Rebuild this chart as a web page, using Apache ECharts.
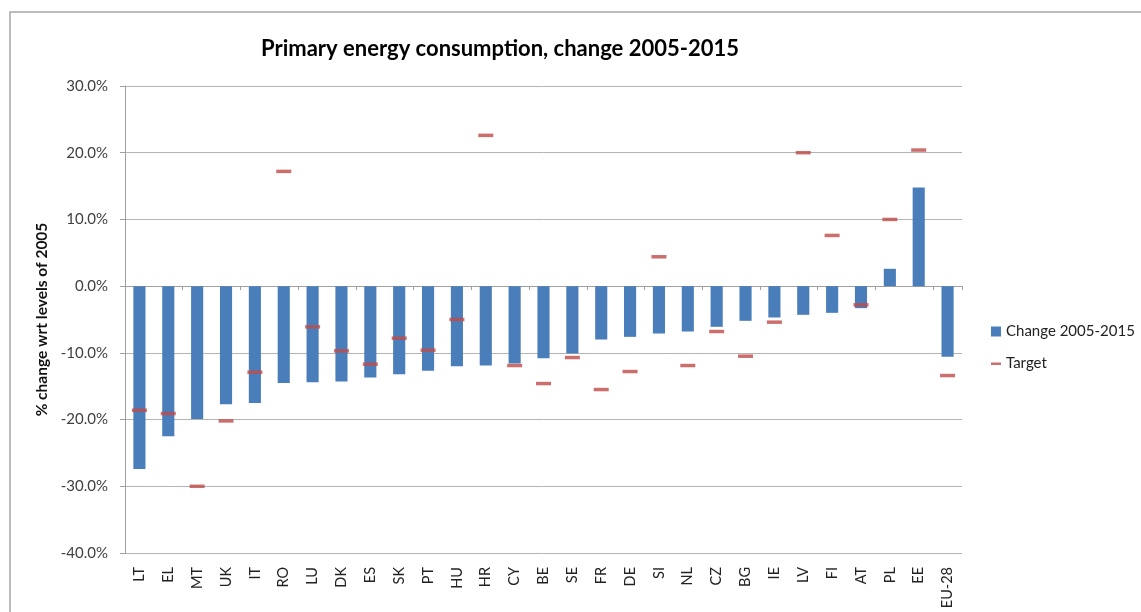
<!DOCTYPE html>
<html>
<head>
<meta charset="utf-8">
<script src="https://cdn.jsdelivr.net/npm/echarts@6/dist/echarts.min.js"></script>
<style>
  html, body { margin: 0; padding: 0; background: #fff; }
  #main { width: 1141px; height: 612px; }
</style>
</head>
<body>
<div id="main"></div>
<script>
const countries = ["LT", "EL", "MT", "UK", "IT", "RO", "LU", "DK", "ES", "SK", "PT", "HU", "HR", "CY",
  "BE", "SE", "FR", "DE", "SI", "NL", "CZ", "BG", "IE", "LV", "FI", "AT", "PL", "EE", "EU-28"]

// % change 2005-2015
const change = [-27.4, -22.5, -19.9, -17.7, -17.5, -14.5, -14.4, -14.3, -13.7, -13.2, -12.7, -12.0, -11.9, -11.6,
  -10.8, -10.1, -8.0, -7.6, -7.1, -6.8, -6.1, -5.2, -4.7, -4.3, -4.0, -3.3, 2.6, 14.8, -10.6]

// 2020 targets, % vs 2005
const target = [-18.6, -19.1, -30.0, -20.2, -12.9, 17.2, -6.1, -9.7, -11.7, -7.8, -9.6, -5.0, 22.6, -11.9,
  -14.6, -10.7, -15.5, -12.8, 4.4, -11.9, -6.8, -10.5, -5.4, 20.0, 7.6, -2.8, 10.0, 20.4, -13.4]

const yTicks = [-40, -30, -20, -10, 0, 10, 20, 30]

const textFont = "Lato, 'Open Sans', sans-serif"

const chart = echarts.init(document.getElementById("main"))

const option = {
  backgroundColor: "#fff",
  animation: false,
  textStyle: { fontFamily: textFont },
  graphic: [
    {
      type: "rect",
      shape: { x: 10, y: 12, width: 1400, height: 800 },
      style: { fill: "none", stroke: "#a6a6a6", lineWidth: 1.5 },
      silent: true,
    },
  ],
  title: {
    text: "Primary energy consumption, change 2005-2015",
    left: 495,
    textAlign: "center",
    top: 33,
    textStyle: { fontFamily: textFont, fontSize: 22, fontWeight: "bold", color: "#000" },
  },
  legend: {
    orient: "vertical",
    left: 986,
    top: 319,
    itemWidth: 10,
    itemHeight: 10,
    itemGap: 17,
    textStyle: { fontSize: 15, color: "#222", fontFamily: textFont },
    data: [
      { name: "Change 2005-2015", icon: "rect" },
      { name: "Target", icon: "path://M0,0L0.01,0Z M0,4L10,4L10,6.5L0,6.5Z M0,10L0.01,10Z" },
    ],
  },
  grid: { left: 125, right: 179, top: 86, bottom: 59, containLabel: false },
  xAxis: [
    {
      type: "category",
      data: countries,
      position: "bottom",
      axisLine: { show: false, onZero: false },
      axisTick: { show: false },
      axisLabel: { rotate: 90, fontSize: 14.5, color: "#222", margin: 14, fontFamily: textFont },
    },
    {
      type: "category",
      data: countries,
      position: "top",
      axisLine: { show: true, onZero: true, lineStyle: { color: "#a0a0a0", width: 1 } },
      axisTick: { show: true, inside: true, length: 4, lineStyle: { color: "#a0a0a0" } },
      axisLabel: { show: false },
    },
  ],
  yAxis: {
    type: "value",
    min: yTicks[0],
    max: yTicks[yTicks.length - 1],
    interval: 10,
    name: "% change wrt levels of 2005",
    nameLocation: "middle",
    nameGap: 72,
    nameTextStyle: { fontSize: 15.5, fontWeight: "bold", color: "#111", fontFamily: textFont },
    axisLine: { show: true, lineStyle: { color: "#a0a0a0" } },
    axisTick: { show: true, length: 5, lineStyle: { color: "#a0a0a0" } },
    axisLabel: {
      fontSize: 15,
      color: "#404040",
      margin: 17,
      fontFamily: textFont,
      formatter: v => v.toFixed(1) + "%",
    },
    splitLine: { lineStyle: { color: "#b4b4b4", width: 1 } },
  },
  series: [
    {
      name: "Change 2005-2015",
      type: "bar",
      data: change,
      barWidth: "42%",
      itemStyle: { color: "#4a7ebb" },
    },
    {
      name: "Target",
      type: "scatter",
      data: target,
      symbol: "rect",
      symbolSize: [15, 3.5],
      itemStyle: { color: "#be4b48" },
      z: 5,
    },
  ],
}

chart.setOption(option)
</script>
</body>
</html>
